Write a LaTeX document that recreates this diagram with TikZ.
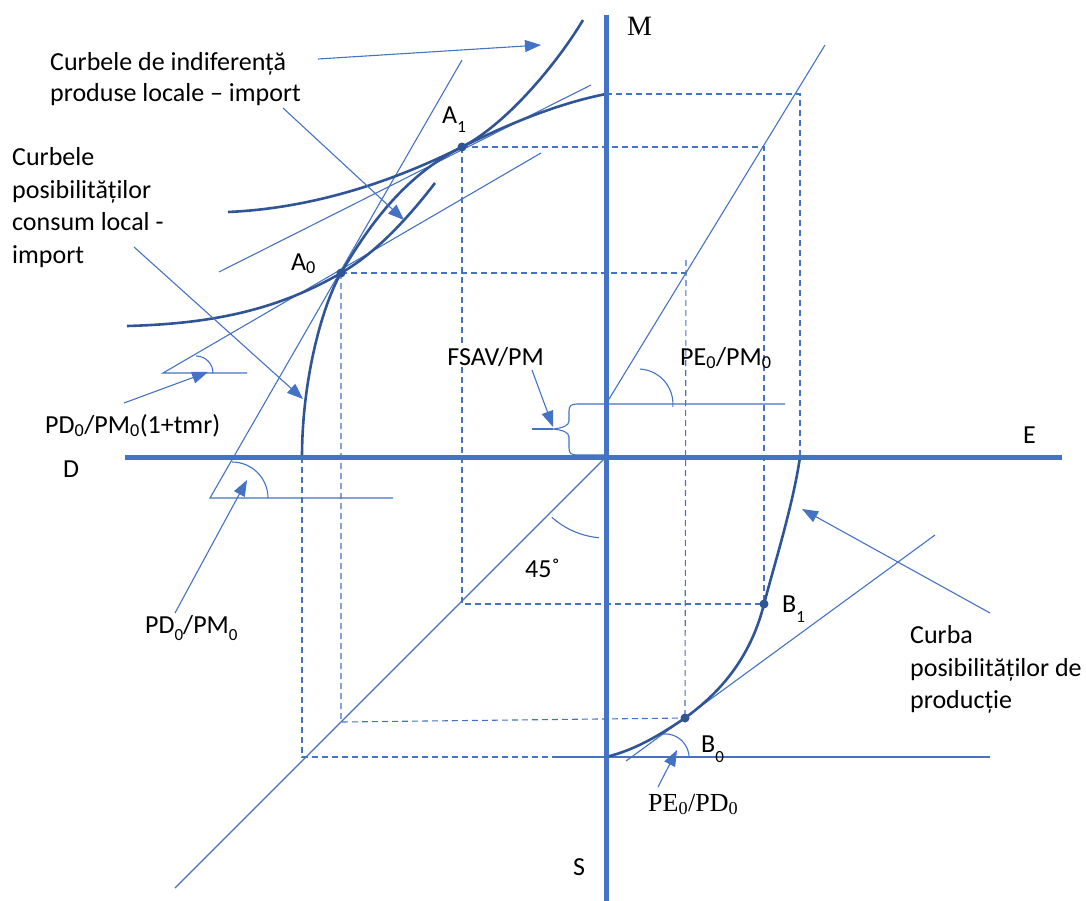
\documentclass[tikz,border=0pt]{standalone}
\usepackage{fontspec}
\setmainfont{Carlito}
\newfontfamily\seriffont{Liberation Serif}
\usetikzlibrary{arrows.meta}
\definecolor{axisblue}{HTML}{4472C4}
\definecolor{curveblue}{HTML}{2F5597}
\newcommand{\lowsub}[2][9pt]{\raisebox{-#1}{\fontsize{17}{17}\selectfont #2}}
\tikzset{
 axisline/.style={axisblue,line width=5pt},
 fine/.style={axisblue,line width=1.1pt},
 guide/.style={axisblue,line width=1.1pt,dash pattern=on 6pt off 4pt},
 curve/.style={curveblue,line width=2.6pt},
 pointer/.style={axisblue,line width=1.1pt,-{Triangle[length=16pt,width=12pt]}},
 lbl/.style={inner sep=0pt,text=black,font=\fontsize{26}{30}\selectfont},
 dot/.style={circle,fill=curveblue,inner sep=0pt,minimum size=9pt},
}
\begin{document}
\begin{tikzpicture}[x=1pt,y=-1pt]
\useasboundingbox (0,0) rectangle (1086,901);

% key points
\coordinate (O) at (606,457);
\coordinate (pA0) at (341,273);
\coordinate (pA1) at (462,147);
\coordinate (pB0) at (685,718);
\coordinate (pB1) at (764,604);
\coordinate (F) at (606,404);

% ---------- dashed guides ----------
\coordinate (g1) at (606,94);  \coordinate (g2) at (800,94);  \coordinate (g3) at (800,457);
\coordinate (g4) at (764,147); \coordinate (g5) at (462,604);
\coordinate (g6) at (686,273); \coordinate (g7) at (686,260);
\coordinate (g8) at (341,722);
\coordinate (g9) at (302,457); \coordinate (g10) at (302,757); \coordinate (g11) at (553,757);
\coordinate (g12) at (990,757);
\draw[guide] (g1) -- (g2) -- (g3);
\draw[guide] (pA1) -- (g4) -- (pB1);
\draw[guide] (pA1) -- (g5) -- (pB1);
\draw[guide] (pA0) -- (g6);
\draw[guide] (g7) -- (pB0);
\draw[guide] (pA0) -- (g8) -- (pB0);
\draw[guide] (g9) -- (g10) -- (g11);
\draw[fine] (g11) -- (g12);

% ---------- straight price lines ----------
\coordinate (t1a) at (219,272); \coordinate (t1b) at (591,85);
\draw[fine] (t1a) -- (t1b);
\coordinate (t2a) at (163,373); \coordinate (t2b) at (541,153); \coordinate (t2c) at (247,373);
\draw[fine] (t2b) -- (t2a) -- (t2c);
\draw[fine] (196,356) arc[start angle=90,end angle=0,radius=17pt];
\coordinate (t3a) at (210,498); \coordinate (t3b) at (462,60); \coordinate (t3c) at (393,498);
\draw[fine] (t3b) -- (t3a) -- (t3c);
\draw[fine] (232,462) arc[start angle=90,end angle=0,radius=36pt];
\coordinate (d45) at (175,888);
\draw[fine] (d45) -- (O);
\draw[fine] (551.8,517.2) arc[start angle=228,end angle=265,radius=81pt];
\coordinate (tta) at (825,45); \coordinate (ttb) at (785,404);
\draw[fine] (tta) -- (F) -- (ttb);
\draw[fine] (639.8,369) arc[start angle=87,end angle=-5,radius=35pt];
\coordinate (tBa) at (626,761); \coordinate (tBb) at (935,535);
\draw[fine] (tBa) -- (tBb);
\draw[fine] (663,734) arc[start angle=95,end angle=0,radius=24pt];

% brace FSAV
\draw[fine] (606,404) -- (577,404) .. controls (571,404) and (569,406) .. (569,411) -- (569,421)
  .. controls (569,426) and (562,428) .. (553,429) .. controls (562,430) and (569,432) .. (569,437)
  -- (569,448) .. controls (569,453) and (571,455) .. (577,455) -- (606,455);
\coordinate (bc) at (553,429); \coordinate (bl) at (532,429);
\draw[fine] (bl) -- (bc);

% ---------- curves ----------
% indifference curve (lower)
\draw[curve] (127,326) .. controls (200,324) and (271,314) .. (pA0)
  .. controls (374,254) and (405,222) .. (435,183);
% indifference curve (upper)
\draw[curve] (228,212) .. controls (320,208) and (402,177) .. (pA1)
  .. controls (507,124) and (558,62) .. (583,20);
% consumption possibilities curve
\draw[curve] (302,457) .. controls (302,380) and (322,306) .. (pA0)
  .. controls (376,213) and (412,172) .. (pA1)
  .. controls (510,123) and (560,103) .. (606,94);
% production possibilities curve
\draw[curve] (606,757) .. controls (635,750) and (660,735) .. (pB0)
  .. controls (718,694) and (750,660) .. (pB1)
  .. controls (775,562) and (793,505) .. (800,457);

% ---------- axes ----------
\draw[axisline] (606,15) -- (606,901);
\draw[axisline] (125,457) -- (1062,457);

% dots
\node[dot] (A0) at (pA0) {};
\node[dot] (A1) at (pA1) {};
\node[dot] (B0) at (pB0) {};
\node[dot] (B1) at (pB1) {};

% ---------- labels ----------
\node[lbl,anchor=base west] (ic1) at (50,71) {Curbele de indiferență};
\node[lbl,anchor=base west] (ic2) at (50,102) {produse locale – import};
\node[lbl,anchor=base west] (cp1) at (12,166) {Curbele};
\node[lbl,anchor=base west] (cp2) at (12,199) {posibilităților};
\node[lbl,anchor=base west] (cp3) at (12,231) {consum local -};
\node[lbl,anchor=base west] (cp4) at (12,264) {import};
\node[lbl,anchor=base west] (lA1) at (442,124) {A\lowsub{1}};
\node[lbl,anchor=base west] (lA0) at (291,270) {A\textsubscript{0}};
\node[lbl,anchor=base east,fill=white,inner sep=1pt] (fsav) at (545,365) {FSAV/PM};
\node[lbl,anchor=base west] (pepm) at (680,365) {PE\textsubscript{0}/PM\textsubscript{0}};
\node[lbl,anchor=base west] (tmr) at (45,433) {PD\textsubscript{0}/PM\textsubscript{0}(1+tmr)};
\node[lbl,anchor=base west] (lD) at (63,477) {D};
\node[lbl,anchor=base west] (lE) at (1023,443) {E};
\node[lbl,anchor=base west,font=\seriffont\fontsize{28}{30}\selectfont] (lM) at (627,36) {M};
\node[lbl,anchor=base west] (lS) at (573,875) {S};
\node[lbl,anchor=base west] (l45) at (525,577) {45˚};
\node[lbl,anchor=base west] (pdpm) at (145,633) {PD\lowsub[7pt]{0}/PM\lowsub[7pt]{0}};
\node[lbl,anchor=base west] (lB1) at (782,612) {B\lowsub[10pt]{1}};
\node[lbl,anchor=base west] (lB0) at (701,752) {B\lowsub[10pt]{0}};
\node[lbl,anchor=base west,font=\seriffont\fontsize{26}{30}\selectfont] (pepd) at (648,811) {PE\textsubscript{0}/PD\textsubscript{0}};
\node[lbl,anchor=base west] (cb1) at (910,643) {Curba};
\node[lbl,anchor=base west] (cb2) at (910,676) {posibilităților de};
\node[lbl,anchor=base west] (cb3) at (910,708) {producție};

% ---------- pointers ----------
\coordinate (a1s) at (318,59);  \coordinate (a1e) at (541,45);
\coordinate (a2s) at (283,108); \coordinate (a2e) at (404,220);
\coordinate (a3s) at (134,247); \coordinate (a3e) at (303,399);
\coordinate (a4s) at (124,403); \coordinate (a4e) at (208,372);
\coordinate (a5s) at (175,613); \coordinate (a5e) at (247,480);
\coordinate (a6s) at (532,370); \coordinate (a6e) at (553,427);
\coordinate (a7s) at (658,787); \coordinate (a7e) at (677,750);
\coordinate (a8s) at (990,613); \coordinate (a8e) at (802,509);
\draw[pointer] (a1s) -- (a1e);
\draw[pointer] (a2s) -- (a2e);
\draw[pointer] (a3s) -- (a3e);
\draw[pointer] (a4s) -- (a4e);
\draw[pointer] (a5s) -- (a5e);
\draw[pointer] (a6s) -- (a6e);
\draw[pointer] (a7s) -- (a7e);
\draw[pointer] (a8s) -- (a8e);
\end{tikzpicture}
\end{document}
